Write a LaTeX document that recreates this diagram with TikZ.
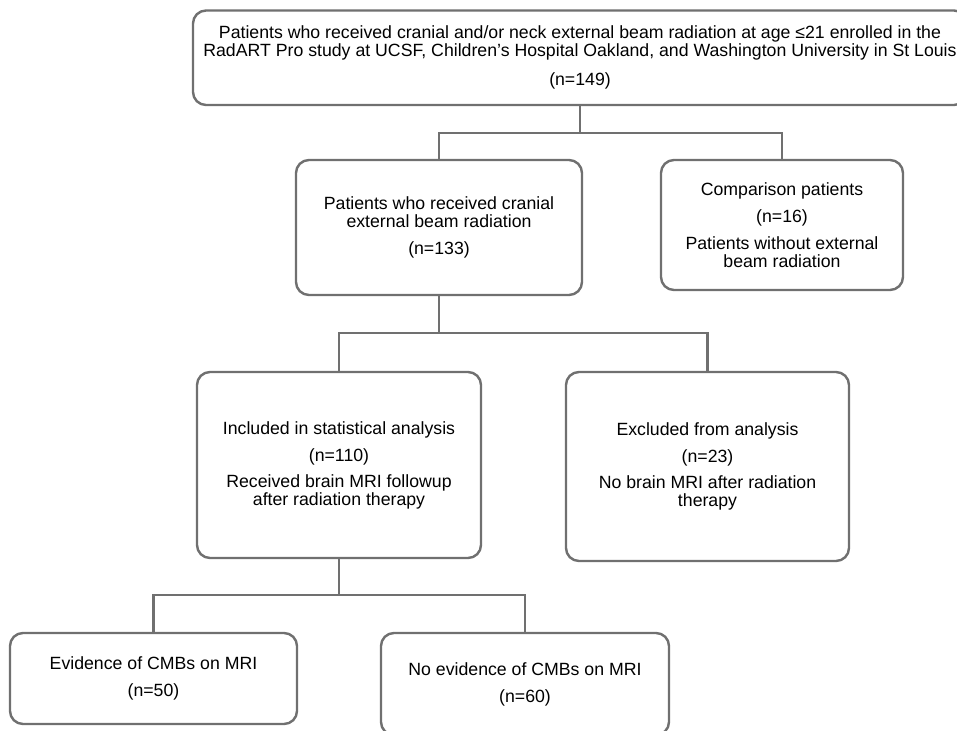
\documentclass[tikz,border=0pt]{standalone}
\usepackage{fontspec}
\setmainfont{Liberation Sans}
\definecolor{boxgray}{HTML}{707070}
\begin{document}
\begin{tikzpicture}[x=1pt,y=-1pt,
  box/.style={draw=boxgray, line width=2.4pt, rounded corners=13pt, fill=white,
    inner sep=0pt, align=center, font=\fontsize{17.7}{18}\selectfont},
  conn/.style={draw=boxgray, line width=2.4pt}]
\useasboundingbox (0,0) rectangle (957,730);
\clip (0,0) rectangle (957,730);
\fill[white] (0,0) rectangle (957,730);

\node[box, minimum width=774pt, minimum height=94.5pt, font=\fontsize{17.7}{14.5}\selectfont] (top) at (580,57.75)
  {Patients who received cranial and/or neck external beam radiation at age ≤21 enrolled in the\\
   RadART Pro study at UCSF, Children’s Hospital Oakland, and Washington University in St Louis\\[12pt]
   (n=149)};

\node[box, minimum width=286pt, minimum height=135pt] (b2) at (439,227.5)
  {Patients who received cranial\\external beam radiation\\[9pt](n=133)};
\node[box, minimum width=242pt, minimum height=130pt] (b3) at (782,225)
  {Comparison patients\\[9pt](n=16)\\[9pt]Patients without external\\beam radiation};

\node[box, minimum width=284pt, minimum height=186pt] (b4) at (339,465)
  {Included in statistical analysis\\[9pt](n=110)\\[8pt]Received brain MRI followup\\after radiation therapy};
\node[box, minimum width=283pt, minimum height=189pt] (b5) at (707.5,466.5)
  {Excluded from analysis\\[9pt](n=23)\\[8pt]No brain MRI after radiation\\therapy};

\node[box, minimum width=287pt, minimum height=91pt] (b6) at (153.5,678.5)
  {Evidence of CMBs on MRI\\[9pt](n=50)};
\node[box, minimum width=288pt, minimum height=102pt] (b7) at (525,684)
  {No evidence of CMBs on MRI\\[9pt](n=60)};

\coordinate (j1) at (580,133);
\coordinate (j2) at (439,333);
\coordinate (j3) at (339,595);

\draw[conn] (top.south) -- (j1);
\draw[conn] (b2.north) |- (j1) -| (b3.north);
\draw[conn] (b2.south) -- (j2);
\draw[conn] (b4.north) |- (j2) -| (b5.north);
\draw[conn] (b4.south) -- (j3);
\draw[conn] (b6.north) |- (j3) -| (b7.north);
\end{tikzpicture}
\end{document}
